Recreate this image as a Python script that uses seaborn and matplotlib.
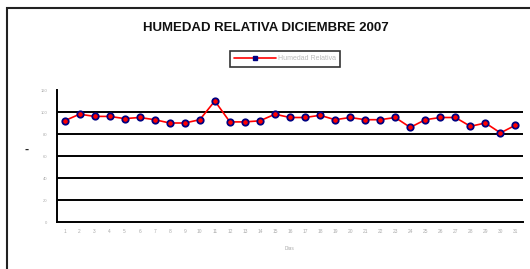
import numpy as np
import pandas as pd
import matplotlib
matplotlib.use("Agg")
import matplotlib.pyplot as plt
import seaborn as sns
from matplotlib.patches import Rectangle
from matplotlib.lines import Line2D

# --- data ---
dias = list(range(1, 32))
humedad = [92, 98, 96, 96, 94, 95, 93, 90, 90, 93, 110, 91, 91, 92, 98,
           95, 95, 97, 93, 95, 93, 93, 95, 86, 93, 95, 95, 87, 90, 81, 88]
y_ticks = [0, 20, 40, 60, 80, 100, 120]

df = pd.DataFrame({"Dias": dias, "Humedad Relativa": humedad})
df["pos"] = np.arange(len(df))

sns.set_style("white")
plt.rcParams['font.family'] = ['Liberation Sans', 'DejaVu Sans']

fig = plt.figure(figsize=(5.3, 2.69), dpi=100)
W, H = 530, 269
ax = fig.add_axes([57 / W, 1 - 222 / H, (523 - 57) / W, (222 - 90) / H])

# outer chart border
fig.patches.append(Rectangle((7 / W, -0.1), 1.0, 1 - 8 / H + 0.1, transform=fig.transFigure,
                             fill=False, edgecolor='#222222', linewidth=1.5))

for v in y_ticks[1:-1]:
    ax.axhline(v, color='black', linewidth=1.4, zorder=1)

sns.lineplot(data=df, x="pos", y="Humedad Relativa", ax=ax, color='red', linewidth=1.2,
             marker='o', markersize=4.6, markerfacecolor='red', markeredgecolor='navy',
             markeredgewidth=1.3, legend=False, zorder=3)

ax.set_xlim(-0.5, len(dias) - 0.5)
ax.set_ylim(0, 120)
ax.set_yticks(y_ticks)
ax.set_yticklabels([str(t) for t in y_ticks], fontsize=3, color='#aaaaaa')
ax.set_xticks(df["pos"])
ax.set_xticklabels([str(d) for d in dias], fontsize=3.5, color='#aaaaaa')
ax.set_xticks(np.arange(-0.5, len(dias)), minor=True)
ax.tick_params(axis='x', which='major', length=0, pad=5)
ax.tick_params(axis='x', which='minor', length=3, width=1.2, color='black', direction='out')
ax.tick_params(axis='y', length=3, width=1.2, color='black', direction='out', pad=4)
ax.set_xlabel("Dias", fontsize=3.5, color='#aaaaaa', labelpad=9)
ax.set_ylabel("")

for side in ['top', 'right']:
    ax.spines[side].set_visible(False)
for side in ['left', 'bottom']:
    ax.spines[side].set_color('black')
    ax.spines[side].set_linewidth(1.4)

fig.text(27 / W, 1 - 150 / H, "-", fontsize=9, fontweight='bold', ha='center', va='center')
fig.text(266 / W, 1 - 28 / H, "HUMEDAD RELATIVA DICIEMBRE 2007", fontsize=9.5,
         fontweight='bold', ha='center', va='center', color='#111111',
         family=['Liberation Sans Narrow', 'Liberation Sans'])

handle = Line2D([], [], color='red', linewidth=1.2, marker='s', markersize=3,
                markerfacecolor='navy', markeredgecolor='navy')
leg = ax.legend([handle], ["Humedad Relativa"], loc='center',
                bbox_to_anchor=(285 / W, 1 - 59 / H), bbox_transform=fig.transFigure,
                fontsize=5, frameon=True, fancybox=False, handlelength=6, handletextpad=0.3,
                borderpad=0.6, labelcolor='#bbbbbb')
leg.get_frame().set_edgecolor('black')
leg.get_frame().set_linewidth(1.2)

fig.savefig("out.png", dpi=100)
